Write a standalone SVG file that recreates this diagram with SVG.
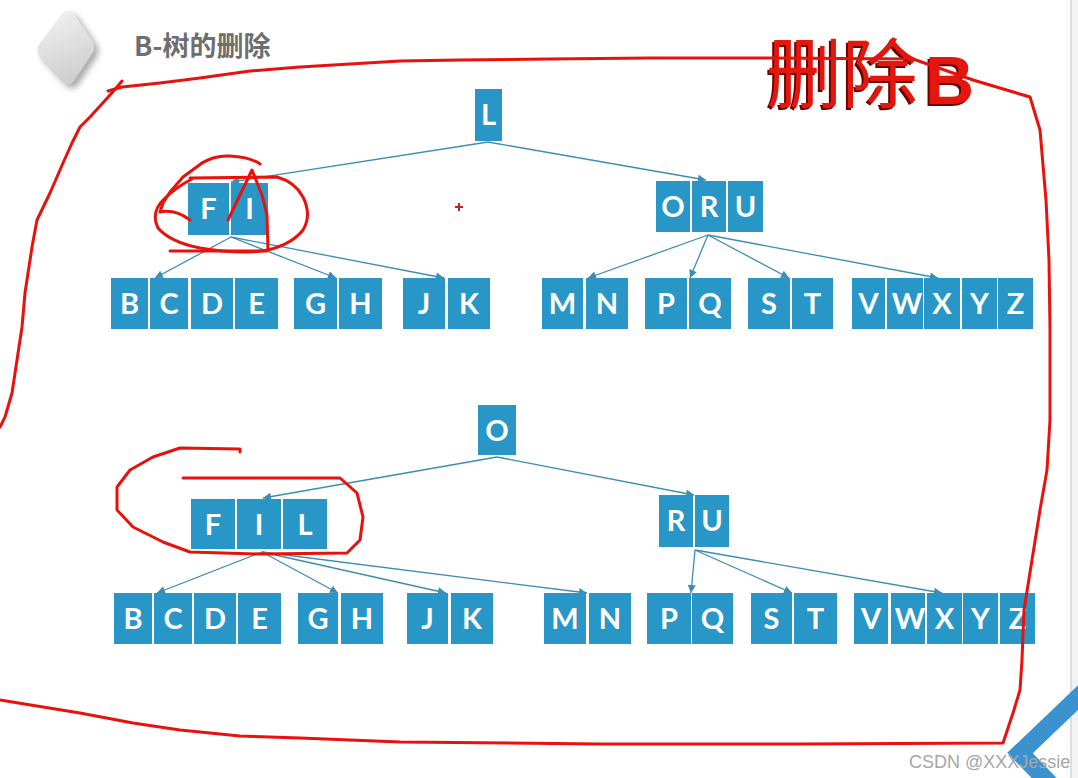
<svg xmlns="http://www.w3.org/2000/svg" width="1078" height="778" viewBox="0 0 1078 778">
<style>
.box{fill:#2897c7}
.lbl{font-family:Lato,"Open Sans","Liberation Sans",sans-serif;font-weight:700;font-size:29px;fill:#ffffff;text-anchor:middle}
.e{stroke:#3d8cb2;stroke-width:1.3;fill:none}
.red{stroke:#e8120c;stroke-width:3;fill:none;stroke-linejoin:round;stroke-linecap:round}
.hcjk{font-family:"Noto Sans CJK SC",sans-serif;font-size:76px}
.hb{font-family:"Liberation Sans",sans-serif;font-weight:700;font-size:68px}
</style>
<defs>
<marker id="ah" viewBox="0 0 10 10" refX="10" refY="5" markerWidth="9" markerHeight="8" markerUnits="userSpaceOnUse" orient="auto"><path d="M0,0 L10,5 L0,10 z" fill="#3d8cb2"/></marker>
<linearGradient id="dg" x1="0" y1="0" x2="0.3" y2="1"><stop offset="0" stop-color="#f4f4f4"/><stop offset="1" stop-color="#cfcfcf"/></linearGradient>
<filter id="blur" x="-30%" y="-30%" width="160%" height="160%"><feGaussianBlur stdDeviation="3"/></filter>
</defs>
<rect x="0" y="0" width="1078" height="778" fill="#ffffff"/>
<rect x="1071" y="0" width="7" height="778" fill="#f3f3f3"/>
<line x1="1071" y1="0" x2="1071" y2="778" stroke="#d6d6d6" stroke-width="1.5"/>

<g id="logo">
<path d="M62 14 Q68 7 74 14 L92 40 Q97 47 92 54 L74 81 Q68 88 62 81 L40 57 Q35 50 40 43 Z" fill="#a9a9a9" transform="translate(4 4)" filter="url(#blur)"/>
<path d="M62 14 Q68 7 74 14 L92 40 Q97 47 92 54 L74 81 Q68 88 62 81 L40 57 Q35 50 40 43 Z" fill="url(#dg)"/>
</g>
<text id="title" x="134" y="56" font-family="'Noto Sans CJK SC',sans-serif" font-weight="700" font-size="27" fill="#6e6e6e">B-树的删除</text>

<g id="connectors">
<line class="e" x1="488" y1="142" x2="231" y2="182" marker-end="url(#ah)"/>
<line class="e" x1="488" y1="142" x2="706" y2="180" marker-end="url(#ah)"/>
<line class="e" x1="231" y1="237" x2="155" y2="278" marker-end="url(#ah)"/>
<line class="e" x1="231" y1="237" x2="336" y2="278" marker-end="url(#ah)"/>
<line class="e" x1="231" y1="237" x2="444" y2="278" marker-end="url(#ah)"/>
<line class="e" x1="708" y1="235" x2="588" y2="278" marker-end="url(#ah)"/>
<line class="e" x1="708" y1="235" x2="690" y2="278" marker-end="url(#ah)"/>
<line class="e" x1="708" y1="235" x2="789" y2="278" marker-end="url(#ah)"/>
<line class="e" x1="708" y1="235" x2="938" y2="278" marker-end="url(#ah)"/>
<line class="e" x1="497" y1="457" x2="263" y2="498" marker-end="url(#ah)"/>
<line class="e" x1="497" y1="457" x2="694" y2="495" marker-end="url(#ah)"/>
<line class="e" x1="262" y1="552" x2="157" y2="593" marker-end="url(#ah)"/>
<line class="e" x1="262" y1="552" x2="338" y2="593" marker-end="url(#ah)"/>
<line class="e" x1="262" y1="552" x2="446" y2="593" marker-end="url(#ah)"/>
<line class="e" x1="262" y1="552" x2="587" y2="593" marker-end="url(#ah)"/>
<line class="e" x1="695" y1="550" x2="691" y2="593" marker-end="url(#ah)"/>
<line class="e" x1="695" y1="550" x2="792" y2="593" marker-end="url(#ah)"/>
<line class="e" x1="695" y1="550" x2="942" y2="593" marker-end="url(#ah)"/>
</g>

<g id="t1-L"><rect class="box" x="475" y="89" width="27" height="52"/><text class="lbl" x="488.5" y="125">L</text></g>
<g id="t1-FI"><rect class="box" x="188" y="183" width="41" height="52"/><text class="lbl" x="208.5" y="219">F</text><rect class="box" x="231" y="183" width="37" height="52"/><text class="lbl" x="249.5" y="219">I</text></g>
<g id="t1-ORU"><rect class="box" x="656" y="181" width="34" height="51"/><text class="lbl" x="673" y="217">O</text><rect class="box" x="692" y="181" width="34" height="51"/><text class="lbl" x="709" y="217">R</text><rect class="box" x="728" y="181" width="35" height="51"/><text class="lbl" x="745.5" y="217">U</text></g>
<g id="t1-BCDE"><rect class="box" x="111" y="278" width="37" height="51"/><text class="lbl" x="129.5" y="314">B</text><rect class="box" x="150" y="278" width="38" height="51"/><text class="lbl" x="169" y="314">C</text><rect class="box" x="191" y="278" width="42" height="51"/><text class="lbl" x="212" y="314">D</text><rect class="box" x="235" y="278" width="43" height="51"/><text class="lbl" x="256.5" y="314">E</text></g>
<g id="t1-GH"><rect class="box" x="294" y="278" width="43" height="51"/><text class="lbl" x="315.5" y="314">G</text><rect class="box" x="339" y="278" width="43" height="51"/><text class="lbl" x="360.5" y="314">H</text></g>
<g id="t1-JK"><rect class="box" x="403" y="278" width="42" height="51"/><text class="lbl" x="424" y="314">J</text><rect class="box" x="448" y="278" width="42" height="51"/><text class="lbl" x="469" y="314">K</text></g>
<g id="t1-MN"><rect class="box" x="542" y="278" width="41" height="51"/><text class="lbl" x="562.5" y="314">M</text><rect class="box" x="586" y="278" width="42" height="51"/><text class="lbl" x="607" y="314">N</text></g>
<g id="t1-PQ"><rect class="box" x="645" y="278" width="42" height="51"/><text class="lbl" x="666" y="314">P</text><rect class="box" x="689" y="278" width="42" height="51"/><text class="lbl" x="710" y="314">Q</text></g>
<g id="t1-ST"><rect class="box" x="748" y="278" width="42" height="51"/><text class="lbl" x="769" y="314">S</text><rect class="box" x="792" y="278" width="41" height="51"/><text class="lbl" x="812.5" y="314">T</text></g>
<g id="t1-VWXYZ"><rect class="box" x="852" y="278" width="33" height="51"/><text class="lbl" x="868.5" y="314">V</text><rect class="box" x="887" y="278" width="36" height="51"/><text class="lbl" x="907" y="314">W</text><rect class="box" x="924" y="278" width="36" height="51"/><text class="lbl" x="942" y="314">X</text><rect class="box" x="962" y="278" width="35" height="51"/><text class="lbl" x="979.5" y="314">Y</text><rect class="box" x="998" y="278" width="35" height="51"/><text class="lbl" x="1015.5" y="314">Z</text></g>

<g id="t2-O"><rect class="box" x="478" y="405" width="38" height="50"/><text class="lbl" x="497" y="441">O</text></g>
<g id="t2-FIL"><rect class="box" x="191" y="499" width="44" height="50"/><text class="lbl" x="213" y="535">F</text><rect class="box" x="237" y="499" width="44" height="50"/><text class="lbl" x="259" y="535">I</text><rect class="box" x="283" y="499" width="44" height="50"/><text class="lbl" x="305" y="535">L</text></g>
<g id="t2-RU"><rect class="box" x="659" y="495" width="34" height="52"/><text class="lbl" x="676" y="531">R</text><rect class="box" x="695" y="495" width="34" height="52"/><text class="lbl" x="712" y="531">U</text></g>
<g id="t2-BCDE"><rect class="box" x="114" y="593" width="38" height="51"/><text class="lbl" x="133" y="629">B</text><rect class="box" x="154" y="593" width="38" height="51"/><text class="lbl" x="173" y="629">C</text><rect class="box" x="194" y="593" width="42" height="51"/><text class="lbl" x="215" y="629">D</text><rect class="box" x="238" y="593" width="43" height="51"/><text class="lbl" x="259.5" y="629">E</text></g>
<g id="t2-GH"><rect class="box" x="298" y="593" width="40" height="51"/><text class="lbl" x="318" y="629">G</text><rect class="box" x="341" y="593" width="42" height="51"/><text class="lbl" x="362" y="629">H</text></g>
<g id="t2-JK"><rect class="box" x="407" y="593" width="41" height="51"/><text class="lbl" x="427.5" y="629">J</text><rect class="box" x="451" y="593" width="42" height="51"/><text class="lbl" x="472" y="629">K</text></g>
<g id="t2-MN"><rect class="box" x="544" y="593" width="42" height="51"/><text class="lbl" x="565" y="629">M</text><rect class="box" x="589" y="593" width="42" height="51"/><text class="lbl" x="610" y="629">N</text></g>
<g id="t2-PQ"><rect class="box" x="647" y="593" width="44" height="51"/><text class="lbl" x="669" y="629">P</text><rect class="box" x="692" y="593" width="41" height="51"/><text class="lbl" x="712.5" y="629">Q</text></g>
<g id="t2-ST"><rect class="box" x="751" y="593" width="41" height="51"/><text class="lbl" x="771.5" y="629">S</text><rect class="box" x="794" y="593" width="43" height="51"/><text class="lbl" x="815.5" y="629">T</text></g>
<g id="t2-VWXYZ"><rect class="box" x="854" y="593" width="34" height="51"/><text class="lbl" x="871" y="629">V</text><rect class="box" x="891" y="593" width="34" height="51"/><text class="lbl" x="910" y="629">W</text><rect class="box" x="927" y="593" width="35" height="51"/><text class="lbl" x="944.5" y="629">X</text><rect class="box" x="963" y="593" width="35" height="51"/><text class="lbl" x="980.5" y="629">Y</text><rect class="box" x="1000" y="593" width="35" height="51"/><text class="lbl" x="1017.5" y="629">Z</text></g>

<g id="heading-red">
<g fill="#6a0000" transform="translate(-2 2)">
<text class="hcjk" x="766" y="102">删除</text>
<text class="hb" x="925" y="104">B</text>
</g>
<g fill="#e4170f">
<text class="hcjk" x="766" y="102">删除</text>
<text class="hb" x="925" y="104">B</text>
</g>
</g>

<g id="annotations">
<path class="red" d="M108 91 L122 87 L160 83 L200 78 L250 71 L300 67 L350 64 L400 61 L460 60 L550 59 L650 58 L770 58 L913 59 L973 80 L1030 97 L1040 130 L1046 200 L1049 260 L1050 330 L1050 420 L1047 470 L1040 510 L1032 560 L1024 610 L1022 660 L1020 690 L1013 713 L1003 743 L800 744 L600 744 L400 742 L300 738 L240 736 L180 730 L133 723 L80 713 L43 707 L0 700"/>
<path class="red" d="M122 81 L117 87 L110 95 L90 117 L80 127 L72 143 L63 163 L50 193 L37 220 L32 247 L25 293 L22 327 L17 360 L12 393 L5 417 L0 427"/>
<path class="red" d="M202 163 Q215 155 230 156 Q250 157 260 164"/>
<path class="red" d="M202 163 L183 177 L170 192 L163 203 L160 212 Q175 209 190 220"/>
<path class="red" d="M190 178 L277 177 Q295 182 303 197 Q312 215 303 230 Q292 244 268 250 Q240 255 200 248 Q170 242 158 228 Q150 212 165 198 Q178 186 192 179"/>
<path class="red" d="M228 220 L252 170 L262 195 L267 215 L268 250"/>
<path class="red" d="M170 251 L267 251"/>
<path class="red" d="M240 452 L240 449 L180 448 L153 457 L130 470 L117 487 L117 510 L133 527 L163 542 L190 552 L260 554 L347 553 L360 540 L363 517 L357 493 L340 478 L183 478"/>
<path d="M455 207 L463 207 M459 203 L459 211" stroke="#c3202a" stroke-width="2" fill="none"/>
</g>

<polyline id="corner" points="1086,690 1020,753 1050,784" fill="none" stroke="#3a93cf" stroke-width="18"/>
<text id="watermark" x="909" y="768" font-family="'Liberation Sans',sans-serif" font-size="18" fill="#a6a6a6">CSDN @XXXJessie</text>
</svg>
